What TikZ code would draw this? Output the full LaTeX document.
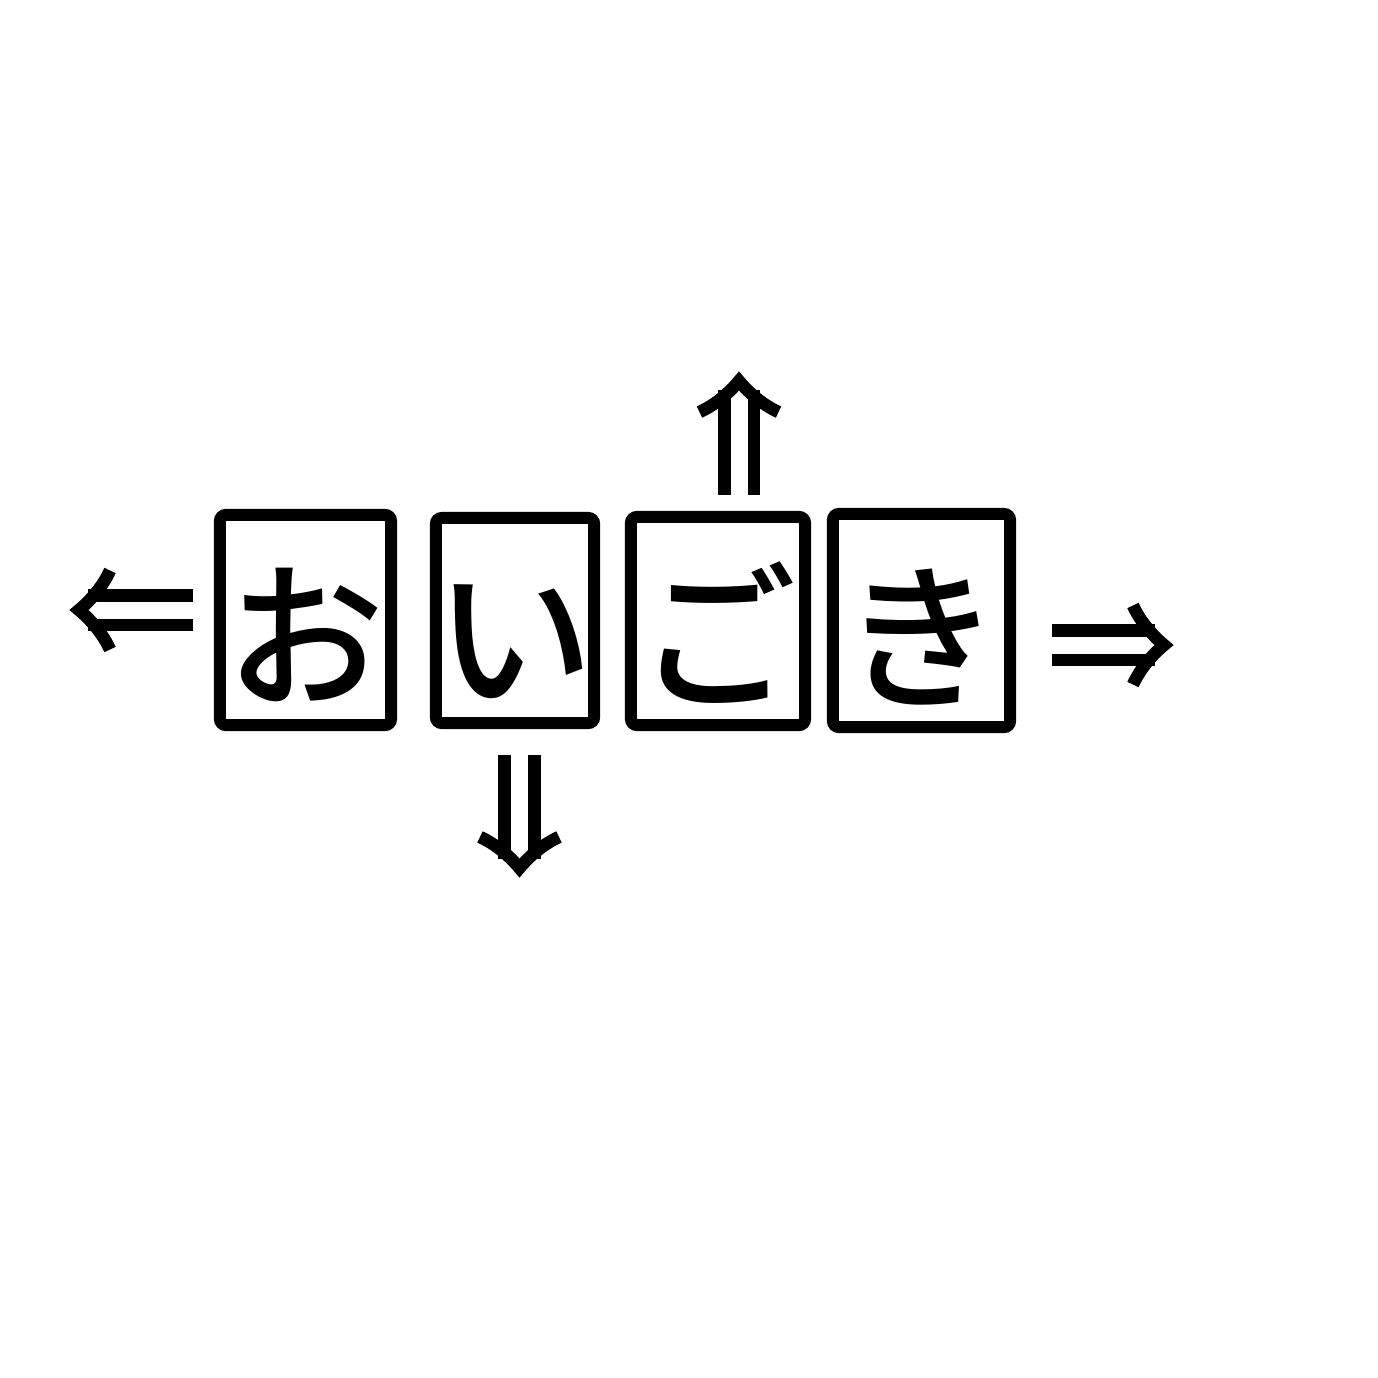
\documentclass[tikz,border=0pt]{standalone}
\usepackage{fontspec}
\newfontfamily\jpfont{Noto Sans CJK JP Medium}

% thick double-line arrow head with curved barbs
\pgfdeclarearrow{
  name = Fat Implies,
  setup code = {
    \pgfarrowssettipend{0pt}
    \pgfarrowssetlineend{-1.8mm}
    \pgfarrowssetbackend{-4.7mm}
    \pgfarrowsupperhullpoint{0pt}{0pt}
    \pgfarrowsupperhullpoint{-4.7mm}{4.7mm}
  },
  drawing code = {
    \pgfsetlinewidth{1.25mm}
    \pgfsetbuttcap
    \pgfsetmiterjoin
    \pgfpathmoveto{\pgfqpoint{-4.0mm}{3.95mm}}
    \pgfpathcurveto{\pgfqpoint{-3.3mm}{2.4mm}}{\pgfqpoint{-2.1mm}{1.0mm}}{\pgfqpoint{-0.9mm}{0mm}}
    \pgfpathcurveto{\pgfqpoint{-2.1mm}{-1.0mm}}{\pgfqpoint{-3.3mm}{-2.4mm}}{\pgfqpoint{-4.0mm}{-3.95mm}}
    \pgfusepathqstroke
  }
}

\begin{document}
\begin{tikzpicture}[x=0.01cm,y=-0.01cm]

        \useasboundingbox (0,0) rectangle (1378,1378);

        \begin{scope}[every node/.style={draw, line width=1.2mm, rounded corners=0.6mm, inner sep=0pt,
            font=\jpfont\fontsize{45pt}{45pt}\selectfont, text height=43pt, text depth=0pt}]
          \node[minimum width=1.71cm, minimum height=2.10cm] (1) at (305.5,620) {お};
          \node[minimum width=1.58cm, minimum height=2.05cm] (2) at (515,620.5) {い};
          \node[minimum width=1.74cm, minimum height=2.08cm] (3) at (718,621)   {ご};
          \node[minimum width=1.77cm, minimum height=2.13cm] (4) at (921.5,620.5) {き};
        \end{scope}

        \coordinate (l1) at (193,610);
        \coordinate (l2) at (70,610);
        \coordinate (d1) at (519.5,755);
        \coordinate (d2) at (519.5,877);
        \coordinate (u1) at (739,495);
        \coordinate (u2) at (739,372);
        \coordinate (r1) at (1052,645);
        \coordinate (r2) at (1173,645);

        \begin{scope}[every path/.style={double, double distance=1.7mm, line width=1.25mm, -{Fat Implies}}]
          \draw (l1) -- (l2);
          \draw (d1) -- (d2);
          \draw (u1) -- (u2);
          \draw (r1) -- (r2);
        \end{scope}

      \end{tikzpicture}
\end{document}
